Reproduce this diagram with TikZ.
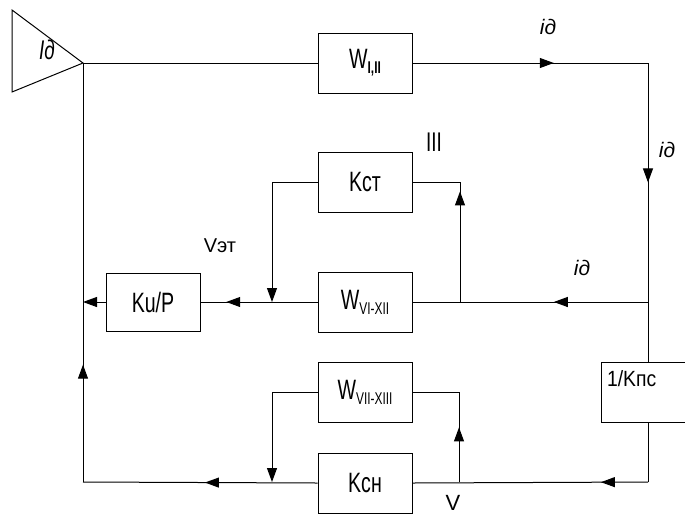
\documentclass[tikz,border=0pt]{standalone}
\usepackage{fontspec}
\setmainfont{Liberation Sans}[FakeStretch=0.7]
\newfontfamily\plainfont{Liberation Sans}
\newfontfamily\midfont{Liberation Sans}[FakeStretch=0.88]
\usepackage{tikz}
\usetikzlibrary{arrows.meta,positioning,calc,decorations.markings}

\newcommand{\wsub}[1]{\raisebox{-5pt}{\fontsize{17}{17}\selectfont #1}}

\begin{document}
\begin{tikzpicture}[
  x=1pt, y=-1pt, line width=1pt,
  >={Triangle[length=14pt,width=10pt]},
  block/.style={rectangle, draw=black, minimum width=94pt, minimum height=60pt, inner sep=0pt, font=\fontsize{28}{30}\selectfont},
  flow/.style={postaction={decorate}, decoration={markings, mark=at position #1 with {\arrow{>}}}},
  sig/.style={inner sep=0pt, font=\plainfont\fontsize{21}{22}\selectfont\itshape},
  note/.style={inner sep=0pt, font=\plainfont\fontsize{22}{24}\selectfont}
]
  \useasboundingbox (0,0) rectangle (685,515);

  % amplifier
  \coordinate (tip) at (83,63);
  \draw (12,10) -- (tip) -- (12,92) -- cycle;
  \node[inner sep=0pt, font=\fontsize{27}{28}\selectfont\itshape] (id0) at (47,50) {Iд};

  % blocks
  \node[block] (w12) at (365,63) {W\wsub{\textbf{I,II}}};
  \node[block] (w612) at (365,302) {W\wsub{VI-XII}};
  \node[block, above=59pt of w612] (kst) {Kст};
  \node[block, minimum height=58pt, left=117pt of w612] (kup) {Ku/P};
  \node[block] (w713) at (365,392) {W\wsub{VII-XIII}};
  \node[block, below=30pt of w713] (kcn) {Kсн};
  \node[block, minimum width=84pt,
    label={[anchor=north west, inner sep=0pt, xshift=6pt, yshift=-9pt, font=\midfont\fontsize{22}{24}\selectfont]north west:1/Kпс}]
    (kps) at (643,392) {};

  % junctions
  \coordinate (tr) at (648,63);
  \coordinate (mr) at (648,302);
  \coordinate (br) at (648,482);
  \coordinate (bl) at (83,482);
  \coordinate (jr1) at (460,302);
  \coordinate (jl1) at (272,302);
  \coordinate (jr2) at (459,482);
  \coordinate (jl2) at (272,482);

  % main path
  \draw (tip) -- (w12.west);
  \draw[flow=0.6] (w12.east) -- (tr);
  \draw[flow=0.4] (tr) -- (kps.north -| tr);
  \draw[flow=0.4] (mr) -- (w612.east);
  \draw[flow=0.78] (w612.west) -- (kup.east);
  \draw[->] (kup.west) -- (kup.west -| tip);
  \draw (kps.south -| br) -- (br);
  \draw[flow=0.2] (br) -- (kcn.east);
  \draw[flow=0.48] (kcn.west) -- (bl);
  \draw[flow=0.28] (bl) -- (tip);

  % local loops
  \draw[flow=0.66] (jr1) |- (kst.east);
  \draw[->] (kst.west) -| (jl1);
  \draw[flow=0.4] (jr2) |- (w713.east);
  \draw[->] (w713.west) -| (jl2);

  % labels
  \node[sig] (id1) at (548,27) {iд};
  \node[sig] (id2) at (667,150) {iд};
  \node[sig] (id3) at (582,268) {iд};
  \node[note, font=\fontsize{27}{28}\selectfont] (n3) at (434,142) {III};
  \node[note, font=\plainfont\fontsize{20}{22}\selectfont] (vet) at (220,246) {Vэт};
  \node[note] (v) at (453,503) {V};
\end{tikzpicture}
\end{document}
